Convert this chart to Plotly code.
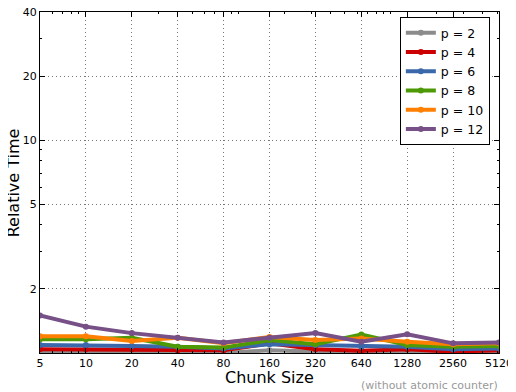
import plotly.graph_objects as go

chunk_sizes = [5, 10, 20, 40, 80, 160, 320, 640, 1280, 2560, 5120]
series_names = ["p = 2", "p = 4", "p = 6", "p = 8", "p = 10", "p = 12"]
p2 = [1.00, 1.00, 1.00, 1.00, 1.00, 1.03, 1.01, 1.00, 1.00, 1.00, 1.00]
p4 = [1.04, 1.04, 1.04, 1.03, 1.03, 1.11, 1.04, 1.025, 1.04, 1.015, 1.03]
p6 = [1.09, 1.09, 1.08, 1.07, 1.05, 1.10, 1.09, 1.07, 1.07, 1.04, 1.05]
p8 = [1.16, 1.16, 1.18, 1.07, 1.06, 1.15, 1.10, 1.22, 1.09, 1.07, 1.08]
p10 = [1.20, 1.20, 1.14, 1.18, 1.11, 1.19, 1.15, 1.17, 1.13, 1.10, 1.11]
p12 = [1.50, 1.33, 1.24, 1.18, 1.12, 1.18, 1.24, 1.13, 1.225, 1.11, 1.12]
y_ticks = [2, 5, 10, 20, 40]
colors = ["#8c8c8c", "#cc0000", "#3a68aa", "#4e9a06", "#ff7f00", "#765086"]

fig = go.Figure()
for name, vals, c in zip(series_names, [p2, p4, p6, p8, p10, p12], colors):
    fig.add_trace(go.Scatter(
        x=chunk_sizes, y=vals, name=name, mode="lines+markers",
        line=dict(color=c, width=4), marker=dict(color=c, size=6),
    ))

axis_common = dict(
    showline=True, linecolor="black", linewidth=1, mirror="ticks",
    ticks="inside", ticklen=5, tickcolor="black",
    showgrid=True, gridcolor="#777777", griddash="1px,3px", gridwidth=1,
    zeroline=False, automargin=False, ticklabeloverflow="allow",
    tickfont=dict(family="DejaVu Sans", size=11, color="black"),
    minor=dict(ticks="inside", ticklen=2, tickcolor="black", showgrid=False, dtick="D1"),
)

# page body has an 8px default margin; figure sized/margined so the plot
# area lands at x 40..499, y 12..353 in the window
fig.update_layout(
    width=508, height=384,
    margin=dict(l=32, r=17, t=4, b=39),
    paper_bgcolor="white", plot_bgcolor="white",
    font=dict(family="DejaVu Sans", color="black"),
    xaxis=dict(
        type="log", range=[0.69897, 3.70927],
        tickvals=chunk_sizes, ticktext=[str(v) for v in chunk_sizes],
        **axis_common,
    ),
    yaxis=dict(
        type="log", range=[0, 1.60206],
        tickvals=y_ticks, ticktext=[str(v) for v in y_ticks],
        **axis_common,
    ),
    legend=dict(
        x=0.784, y=0.985, xanchor="left", yanchor="top",
        bgcolor="white", bordercolor="black", borderwidth=1,
        font=dict(size=12.5, family="DejaVu Sans"),
        itemwidth=30, tracegroupgap=0,
    ),
    showlegend=True,
)

fig.add_annotation(
    text="Relative Time", xref="paper", yref="paper", textangle=-90,
    x=-0.057, y=0.5, xanchor="center", yanchor="middle", showarrow=False,
    font=dict(size=16, color="black", family="DejaVu Sans"),
)
fig.add_annotation(
    text="Chunk Size", xref="paper", yref="paper",
    x=0.501, y=-0.072, xanchor="center", yanchor="middle", showarrow=False,
    font=dict(size=16, color="black", family="DejaVu Sans"),
)
fig.add_annotation(
    text="(without atomic counter)", xref="paper", yref="paper",
    x=1.002, y=-0.094, xanchor="right", yanchor="middle", showarrow=False,
    font=dict(size=11, color="#999999", family="DejaVu Sans"),
)

fig.write_html("out.html")
